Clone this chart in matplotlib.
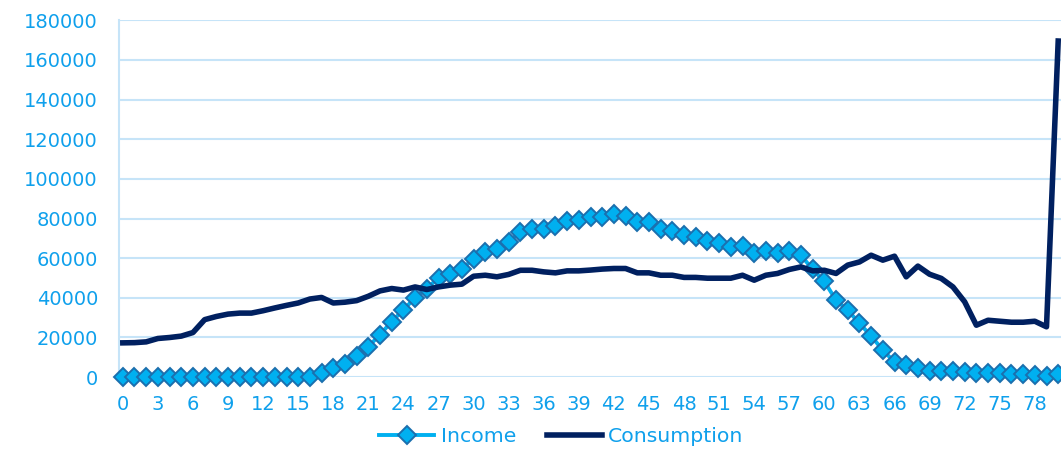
import numpy as np
import matplotlib.pyplot as plt

# Age profile: income vs consumption per age
ages = np.arange(0, 81)

income = [
    0, 0, 0, 0, 0, 0, 0, 0, 0, 0,
    0, 0, 0, 0, 0, 0, 300, 2300, 4500, 6400,
    10500, 15400, 21500, 28000, 34000, 40000, 44700, 50100, 51800, 54500,
    59800, 62900, 64400, 68200, 73300, 74600, 74600, 76300, 78800, 79400,
    80800, 80800, 82200, 81500, 78300, 78000, 74900, 73800, 71600, 70700,
    68700, 67900, 65700, 66000, 62400, 63700, 62400, 63500, 61500, 54300,
    48300, 38800, 33800, 27100, 20800, 13600, 7700, 6000, 4400, 3200,
    3000, 3000, 2700, 2200, 2200, 1900, 1400, 1400, 1100, 600,
    1600,
]

consumption = [
    17300, 17400, 17800, 19500, 20000, 20700, 22500, 29000, 30600, 31800,
    32300, 32300, 33500, 34900, 36200, 37400, 39400, 40200, 37400, 37800,
    38600, 40800, 43500, 44700, 43900, 45500, 44200, 45500, 46400, 46900,
    50900, 51400, 50600, 51800, 53900, 53900, 53100, 52600, 53600, 53600,
    54000, 54500, 54800, 54800, 52600, 52600, 51400, 51400, 50300, 50300,
    49900, 49900, 49900, 51400, 48900, 51400, 52300, 54300, 55600, 53600,
    53900, 52300, 56500, 58100, 61500, 59000, 61000, 50600, 56000, 51900,
    49800, 45500, 38000, 26200, 28700, 28200, 27700, 27700, 28200, 25400,
    169500,
]

xtick_labels = [str(a) for a in range(0, 79, 3)]

TEXT = '#0FA0EC'
GRID = '#C6E4F8'

fig = plt.figure(figsize=(10.61, 4.49), dpi=100)
ax = fig.add_axes([0.112, 0.160, 0.888, 0.795])

ax.plot(ages, income, color='#00B0F0', lw=2.8, marker='D', ms=8.8,
        mfc='#00B0F0', mec='#1B6FAE', mew=1.4, label='Income', clip_on=False, zorder=3)
ax.plot(ages, consumption, color='#002060', lw=4, label='Consumption',
        solid_joinstyle='round', zorder=4)

ax.set_xlim(-0.34, 80.24)
ax.set_ylim(0, 180000)
ax.set_yticks(np.arange(0, 180001, 20000))
ax.set_xticks(range(0, 79, 3))
ax.set_xticklabels(xtick_labels)

ax.grid(axis='y', color=GRID, lw=1.5)
ax.set_axisbelow(True)
for s in ['top', 'right', 'bottom']:
    ax.spines[s].set_visible(False)
ax.spines['left'].set_color(GRID)
ax.spines['left'].set_linewidth(1.5)
ax.tick_params(length=0, labelsize=14, colors=TEXT)
ax.tick_params(axis='y', pad=15)
ax.tick_params(axis='x', pad=13)

fig.legend(loc='center', bbox_to_anchor=(0.529, 0.027), ncol=2, frameon=False,
           fontsize=14.7, labelcolor=TEXT, handlelength=2.7, columnspacing=1.5,
           handletextpad=0.3)

fig.savefig('out.png', dpi=100)
